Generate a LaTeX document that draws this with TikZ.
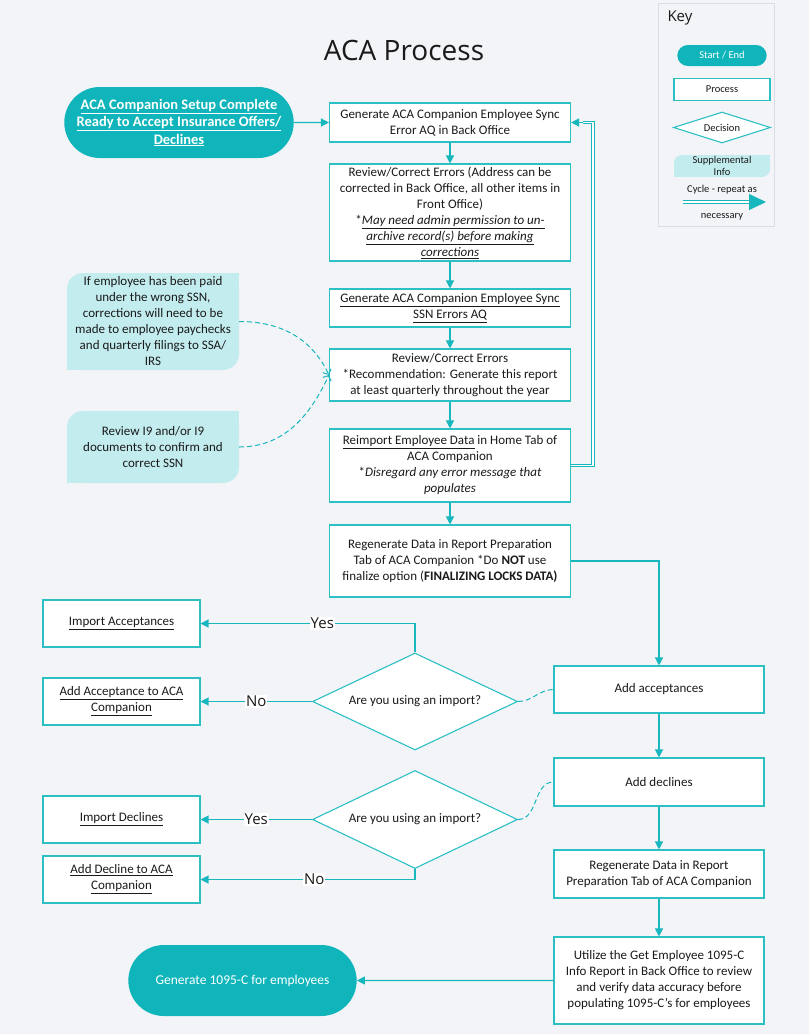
\documentclass[tikz,border=0pt]{standalone}
\usepackage{fontspec}
\setmainfont{Carlito}
\newfontfamily\opensans{Open Sans}
\usetikzlibrary{arrows.meta,shapes.geometric,shapes.misc,calc}

\definecolor{pagebg}{HTML}{F3F4F8}
\definecolor{boxline}{HTML}{2CC0C5}
\definecolor{flowcol}{HTML}{17B7BD}
\definecolor{pillfill}{HTML}{0FB5BA}
\definecolor{suppfill}{HTML}{C3ECEE}
\definecolor{keyline}{HTML}{DADDE6}
\definecolor{inkcol}{HTML}{1A1A1A}

\newcommand\bodyfont{\fontsize{13}{16}\selectfont}
\newcommand\keyfont{\fontsize{10.5}{12.5}\selectfont}

\begin{document}
\begin{tikzpicture}[
  x=1pt, y=-1pt,
  every node/.style={font=\bodyfont, text=inkcol},
  process/.style={draw=boxline, fill=white, line width=1.1pt, align=center, inner sep=2pt},
  mainbox/.style={process, minimum width=241pt},
  sidebox/.style={process, minimum width=210pt},
  leftbox/.style={process, minimum width=157pt, minimum height=47pt},
  startend/.style={rounded rectangle, fill=pillfill, draw=none, text=white, align=center},
  decision/.style={diamond, aspect=2.6, draw=boxline, fill=white, line width=1.1pt, inner sep=0pt},
  supp/.style={fill=suppfill, rounded corners=16pt, align=center, minimum width=172pt},
  flow/.style={draw=flowcol, line width=1.3pt, -{Triangle[length=8pt,width=8pt]}},
  hint/.style={draw=flowcol, line width=1pt, dash pattern=on 5pt off 3pt},
  cycleline/.style={draw=flowcol, line width=1.1pt, double=white, double distance=1.6pt},
  yesno/.style={fill=white, inner sep=1pt, font=\opensans\fontsize{15}{15}\selectfont}
]
\fill[pagebg] (0,0) rectangle (809,1034);

\node[font=\opensans\fontsize{28}{30}\selectfont] (title) at (404,50) {ACA Process};

% key
\node[draw=keyline, line width=1pt, fill=pagebg, minimum width=116pt, minimum height=223pt] (key) at (716,114.5) {};
\node[anchor=west, font=\opensans\fontsize{15}{16}\selectfont] (keytitle) at (664,18) {Key};
\node[startend, font=\keyfont, minimum width=96pt, minimum height=21pt] (kstart) at (722,55.5) {Start / End};
\node[process, font=\keyfont, minimum width=96pt, minimum height=22pt] (kproc) at (722,89.5) {Process};
\node[decision, aspect=3.1, font=\keyfont, minimum width=97pt, minimum height=31pt] (kdec) at (722,127.5) {Decision};
\node[supp, font=\keyfont, rounded corners=8pt, minimum width=96pt, minimum height=22pt, inner sep=0pt] (ksupp) at (722,166) {Supplemental\\Info};
\fill[suppfill] (ksupp.north east) rectangle ++(-8,8);
\fill[suppfill] (ksupp.south west) rectangle ++(8,-8);
\node[font=\keyfont] (kcycle) at (722,190) {Cycle - repeat as};
\node[font=\keyfont] (knec) at (722,217) {necessary};
\coordinate (kc1) at (683,202);
\coordinate (kc2) at (766,202);
\draw[cycleline, shorten >=16pt] (kc1) -- (kc2);
\draw[draw=flowcol, line width=1pt, -{Triangle[length=17pt,width=16pt]}] ($(kc2)+(-17,0)$) -- (kc2);

% main column
\node[startend, font=\fontsize{14.5}{17.5}\selectfont\bfseries, minimum width=222pt, minimum height=71pt] (setup) at (179,122.5)
  {\underline{ACA Companion Setup Complete}\\\underline{Ready to Accept Insurance Offers/}\\\underline{Declines}};
\node[mainbox, minimum height=39pt] (sync) at (450,122.5) {Generate ACA Companion Employee Sync\\Error AQ in Back Office};
\node[mainbox, minimum height=97pt] (review) at (450,212.5) {Review/Correct Errors (Address can be\\corrected in Back Office, all other items in\\Front Office)\\*\underline{\textit{May need admin permission to un-}}\\\underline{\textit{archive record(s) before making}}\\\underline{\textit{corrections}}};
\node[mainbox, minimum height=38pt] (ssnaq) at (450,308) {\underline{Generate ACA Companion Employee Sync}\\\underline{SSN Errors AQ}};
\node[mainbox, minimum height=52pt] (fix) at (450,375) {Review/Correct Errors\\*Recommendation: Generate this report\\at least quarterly throughout the year};
\node[mainbox, minimum height=73pt] (reimport) at (450,465.5) {\underline{Reimport Employee Data} in Home Tab of\\ACA Companion\\*\textit{Disregard any error message that}\\\textit{populates}};
\node[mainbox, minimum height=72pt] (regen) at (450,561) {Regenerate Data in Report Preparation\\Tab of ACA Companion *Do \textbf{NOT} use\\finalize option (\textbf{FINALIZING LOCKS DATA)}};

% supplemental info
\node[supp, minimum height=97pt] (paid) at (153,321.5) {If employee has been paid\\under the wrong SSN,\\corrections will need to be\\made to employee paychecks\\and quarterly filings to SSA/\\IRS};
\fill[suppfill] (paid.north east) rectangle ++(-16,16);
\fill[suppfill] (paid.south west) rectangle ++(16,-16);
\node[supp, minimum height=72pt] (i9) at (153,447) {Review I9 and/or I9\\documents to confirm and\\correct SSN};
\fill[suppfill] (i9.north east) rectangle ++(-16,16);
\fill[suppfill] (i9.south west) rectangle ++(16,-16);

% right column
\node[sidebox, minimum height=47pt] (acc) at (659,689.5) {Add acceptances};
\node[sidebox, minimum height=48pt] (decl) at (659,782) {Add declines};
\node[sidebox, minimum height=48pt] (regen2) at (659,874) {Regenerate Data in Report\\Preparation Tab of ACA Companion};
\node[sidebox, minimum height=87pt] (verify) at (659,980.5) {Utilize the Get Employee 1095-C\\Info Report in Back Office to review\\and verify data accuracy before\\populating 1095-C's for employees};
\node[startend, font=\fontsize{13.5}{16}\selectfont, minimum width=235pt, minimum height=71pt] (gen) at (242.5,980.5) {Generate 1095-C for employees};

% decisions
\node[decision, minimum width=205pt, minimum height=97pt] (d1) at (415,701.5) {Are you using an import?};
\node[decision, minimum width=205pt, minimum height=98pt] (d2) at (415,819.5) {Are you using an import?};
\node[leftbox] (impacc) at (121.5,623.5) {\underline{Import Acceptances}};
\node[leftbox] (addacc) at (121.5,701.5) {\underline{Add Acceptance to ACA}\\\underline{Companion}};
\node[leftbox] (impdec) at (121.5,819.5) {\underline{Import Declines}};
\node[leftbox] (adddec) at (121.5,879.5) {\underline{Add Decline to ACA}\\\underline{Companion}};

% connectors
\draw[flow] (setup) -- (sync);
\draw[flow] (sync) -- (review);
\draw[flow] (review) -- (ssnaq);
\draw[flow] (ssnaq) -- (fix);
\draw[flow] (fix) -- (reimport);
\draw[flow] (reimport) -- (regen);
\draw[flow] (regen.east) -| (acc.north);
\draw[flow] (acc) -- (decl);
\draw[flow] (decl) -- (regen2);
\draw[flow] (regen2) -- (verify);
\draw[flow] (verify) -- (gen);

\draw[flow] (d1.north) |- node[yesno, pos=0.716] {Yes} (impacc.east);
\draw[flow] (d1.west) -- node[yesno] {No} (addacc.east);
\draw[flow] (d2.west) -- node[yesno] {Yes} (impdec.east);
\draw[flow] (d2.south) |- node[yesno, pos=0.735] {No} (adddec.east);

\draw[hint, -{Straight Barb[length=4pt,width=9pt]}] (paid.east) to[out=0,in=115] (fix.west);
\draw[hint, -{Straight Barb[length=4pt,width=9pt]}] (i9.east) to[out=0,in=-115] (fix.west);
\draw[hint] (d1.east) to[out=0,in=180] (acc.west);
\draw[hint] (d2.east) to[out=0,in=180] (decl.west);

% cycle back to the top
\coordinate (cyc) at ($(sync.east)+(12,0)$);
\draw[cycleline] (reimport.east) -- ++(22,0) |- (cyc);
\draw[flow] (cyc) -- (sync.east);
\end{tikzpicture}
\end{document}
